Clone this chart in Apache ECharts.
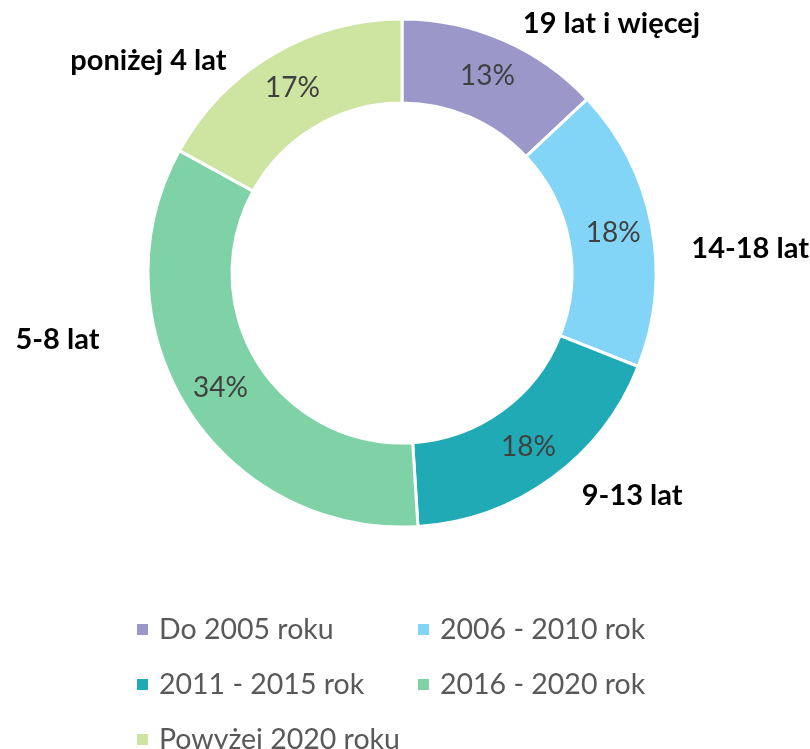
<!DOCTYPE html>
<html>
<head>
<meta charset="utf-8">
<script src="https://cdn.jsdelivr.net/npm/echarts@6/dist/echarts.min.js"></script>
<style>
  html, body { margin: 0; padding: 0; background: #fff; }
  #main { width: 810px; height: 749px; }
</style>
</head>
<body>
<div id="main"></div>
<script>
// dane
var categories = ['Do 2005 roku', '2006 - 2010 rok', '2011 - 2015 rok', '2016 - 2020 rok', 'Powyżej 2020 roku'];
var ageLabels = ['19 lat i więcej', '14-18 lat', '9-13 lat', '5-8 lat', 'poniżej 4 lat'];
var shares = [13, 18, 18, 34, 17];
var colors = ['#9b98c9', '#82d5f7', '#20aab5', '#7fd2a6', '#cde5a0'];

// położenie etykiet zewnętrznych (kąt od góry, odległość od środka)
var labelAngle = [40, 86, 134, 259, 310];
var labelDist = [326, 349, 320, 351, 331];

var cx = 402, cy = 273;

var myChart = echarts.init(document.getElementById('main'));

var data = [];
for (var i = 0; i < categories.length; i++) {
    data.push({ name: categories[i], value: shares[i], itemStyle: { color: colors[i] } });
}

myChart.setOption({
    animation: false,
    textStyle: { fontFamily: 'Lato' },
    legend: {
        left: 130,
        top: 608,
        width: 560,
        icon: 'rect',
        itemWidth: 13,
        itemHeight: 13,
        itemGap: 22,
        selectedMode: false,
        textStyle: { fontSize: 28.5, color: '#595959', width: 235, lineHeight: 33, padding: [0, 0, 0, 5] },
        data: categories
    },
    series: [
        {
            name: 'udział',
            type: 'pie',
            center: [cx, cy],
            radius: [170, 254],
            startAngle: 90,
            clockwise: true,
            itemStyle: { borderColor: '#fff', borderWidth: 3 },
            label: {
                show: true,
                position: 'inside',
                fontSize: 28,
                color: '#404040',
                formatter: function (p) { return p.value + '%'; }
            },
            labelLine: { show: false },
            emphasis: { disabled: true },
            data: data
        },
        {
            name: 'wiek',
            type: 'pie',
            center: [cx, cy],
            radius: [170, 254],
            startAngle: 90,
            clockwise: true,
            silent: true,
            itemStyle: { color: 'rgba(0,0,0,0)' },
            label: {
                show: true,
                position: 'outside',
                fontSize: 29,
                fontWeight: 'bold',
                color: '#000',
                overflow: 'none',
                width: 300,
                formatter: function (p) { return ageLabels[p.dataIndex]; }
            },
            labelLine: { show: false },
            labelLayout: function (p) {
                var a = labelAngle[p.dataIndex] * Math.PI / 180;
                var d = labelDist[p.dataIndex];
                return {
                    x: cx + d * Math.sin(a),
                    y: cy - d * Math.cos(a),
                    align: 'center',
                    verticalAlign: 'middle'
                };
            },
            emphasis: { disabled: true },
            data: data.map(function (d) { return { name: d.name, value: d.value }; })
        }
    ]
});
</script>
</body>
</html>
